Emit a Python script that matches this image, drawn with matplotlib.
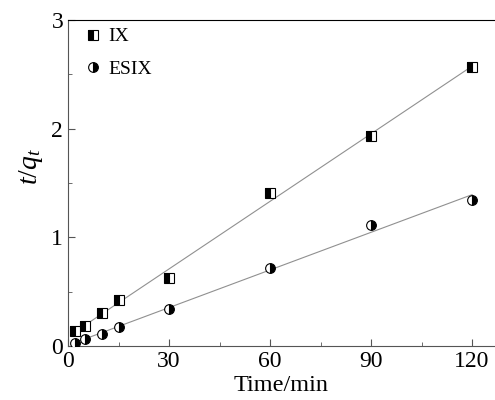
import numpy as np
import matplotlib.pyplot as plt
from matplotlib.ticker import MultipleLocator

# données
time_min = [2, 5, 10, 15, 30, 60, 90, 120]
ix_vals = [0.14, 0.18, 0.30, 0.42, 0.63, 1.41, 1.93, 2.57]
esix_vals = [0.03, 0.065, 0.11, 0.175, 0.34, 0.72, 1.11, 1.34]

plt.rcParams['font.family'] = ['Liberation Serif', 'DejaVu Serif']
plt.rcParams['mathtext.fontset'] = 'custom'
plt.rcParams['mathtext.it'] = 'Liberation Serif:italic'
plt.rcParams['mathtext.rm'] = 'Liberation Serif'

fig = plt.figure(figsize=(4.95, 4.0), dpi=100)
ax = fig.add_axes([68 / 495, 54 / 400, 1 - 68 / 495, 326 / 400])

# droites de régression
t = np.array(time_min)
for vals in (ix_vals, esix_vals):
    k, b = np.polyfit(t, vals, 1)
    ax.plot([t[0], t[-1]], [k * t[0] + b, k * t[-1] + b], color='#909090', lw=0.8, zorder=1)

ax.plot(time_min, ix_vals, 's', ms=6.5, fillstyle='left', color='black',
        markerfacecoloralt='white', mew=0.8, ls='none', label='IX', zorder=3)
ax.plot(time_min, esix_vals, 'o', ms=7, fillstyle='right', color='black',
        markerfacecoloralt='white', mew=0.8, ls='none', label='ESIX', zorder=3)

ax.set_xlim(0, 126.8)
ax.set_ylim(0, 3)
ax.xaxis.set_major_locator(MultipleLocator(30))
ax.xaxis.set_minor_locator(MultipleLocator(15))
ax.yaxis.set_major_locator(MultipleLocator(1))
ax.yaxis.set_minor_locator(MultipleLocator(0.5))
ax.tick_params(which='both', direction='in', labelsize=17, top=False, right=False)
ax.tick_params(which='major', length=5, color='#555555')
ax.tick_params(which='minor', length=3, color='#555555')
ax.spines['right'].set_visible(False)
ax.spines['left'].set_color('#555555')
ax.spines['bottom'].set_color('#555555')

ax.set_xlabel('Time/min', fontsize=17.5, labelpad=2)
ax.set_ylabel('$t/q_t$', fontsize=20)
ax.yaxis.set_label_coords(-0.055, 0.55)

ax.legend(loc='upper left', bbox_to_anchor=(0.014, 1.0), frameon=False, fontsize=14,
          handletextpad=0.15, handlelength=1.2, borderaxespad=0.0, labelspacing=0.75)

fig.savefig('out.png', dpi=100)
